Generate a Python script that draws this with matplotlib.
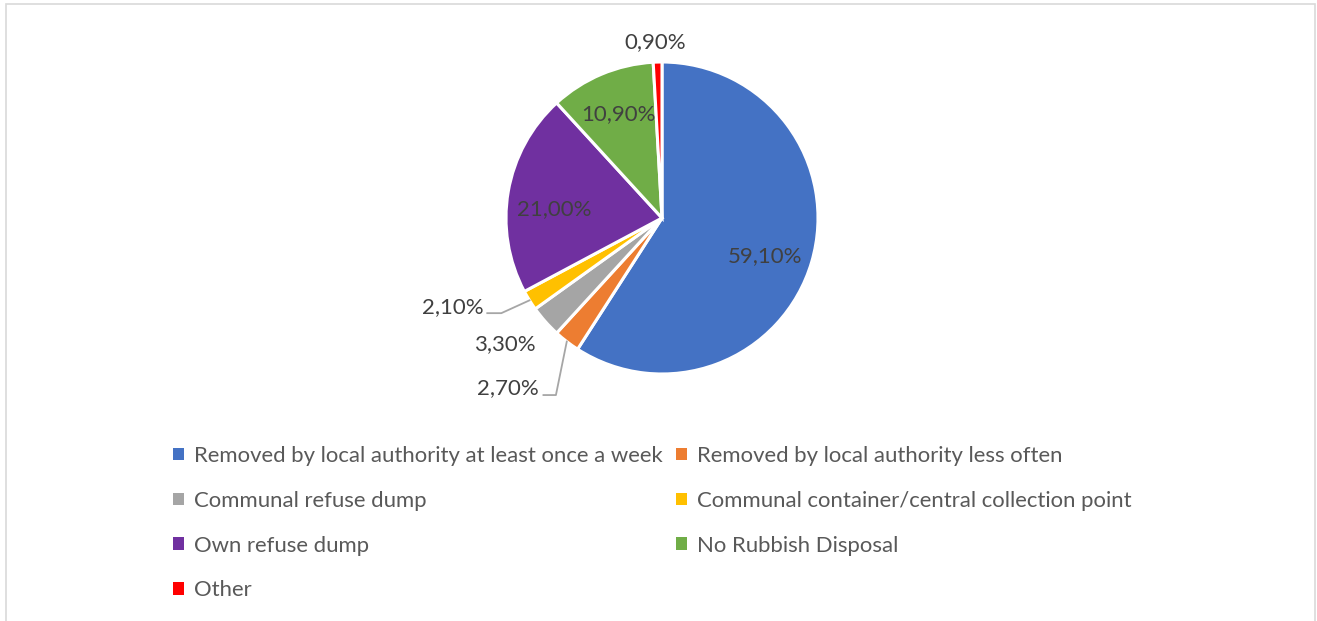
import numpy as np
import matplotlib
matplotlib.use('Agg')
import matplotlib.pyplot as plt
from matplotlib.patches import Patch, Rectangle

plt.rcParams['font.family'] = ['Lato', 'DejaVu Sans']

categories = ['Removed by local authority at least once a week',
              'Removed by local authority less often',
              'Communal refuse dump',
              'Communal container/central collection point',
              'Own refuse dump',
              'No Rubbish Disposal',
              'Other']
shares = [59.1, 2.7, 3.3, 2.1, 21.0, 10.9, 0.9]
labels = ['59,10%', '2,70%', '3,30%', '2,10%', '21,00%', '10,90%', '0,90%']
colors = ['#4472C4', '#ED7D31', '#A5A5A5', '#FFC000', '#7030A0', '#70AD47', '#FF0000']

W, H = 1317, 621
fig = plt.figure(figsize=(W/100, H/100), dpi=100)
fig.patches.append(Rectangle((6/W, -0.1), (1315-6)/W, 1.1-4/H, transform=fig.transFigure,
                             fill=False, edgecolor='#D9D9D9', lw=1.2))

cx, cy, r = 662, 218, 156
ax = fig.add_axes([(cx-r)/W, (H-cy-r)/H, 2*r/W, 2*r/H])

wedges, _ = ax.pie(shares, colors=colors, startangle=90, counterclock=False, radius=1,
                   wedgeprops=dict(edgecolor='white', linewidth=2.2))
ax.set_xlim(-1, 1); ax.set_ylim(-1, 1); ax.axis('off')

fs = 16
txt_kw = dict(fontsize=fs, color='#404040', ha='center', va='center')

def mid(w):
    a = np.deg2rad((w.theta1 + w.theta2) / 2)
    return np.cos(a), np.sin(a)

# inside labels (distance, vertical nudge)
for i, d, dy in [(0, 0.69, -0.05), (4, 0.70, -0.06), (5, 0.72, 0.0)]:
    x, y = mid(wedges[i])
    ax.text(x*d, y*d + dy, labels[i], **txt_kw)
# outside, no leader
x, y = mid(wedges[6]); ax.text(x*1.13 - 0.01, y*1.13, labels[6], **txt_kw)
x, y = mid(wedges[2]); ax.text(x*1.35, y*1.22, labels[2], **txt_kw)

# outside with leader lines
x, y = mid(wedges[3])
tx, ty = -1.34, -0.57
ax.text(tx, ty, labels[3], **txt_kw)
ax.plot([tx+0.22, tx+0.31, x], [ty-0.04, ty-0.04, y], color='#A6A6A6', lw=1.3, clip_on=False)
x, y = mid(wedges[1])
tx, ty = -0.99, -1.09
ax.text(tx, ty, labels[1], **txt_kw)
ax.plot([tx+0.23, tx+0.31, x], [ty-0.045, ty-0.045, y], color='#A6A6A6', lw=1.3, clip_on=False)

handles = [Patch(facecolor=c, edgecolor='none') for c in colors]
order = [0, 2, 4, 6, 1, 3, 5]
fig.legend([handles[i] for i in order], [categories[i] for i in order], ncol=2,
           loc='upper left', bbox_to_anchor=(162/W, 1-435/H), frameon=False,
           fontsize=15.9, labelcolor='#595959', handlelength=0.5, handleheight=0.5,
           handletextpad=0.45, columnspacing=0.6, labelspacing=1.12, borderpad=0)

fig.savefig('out.png', dpi=100)
